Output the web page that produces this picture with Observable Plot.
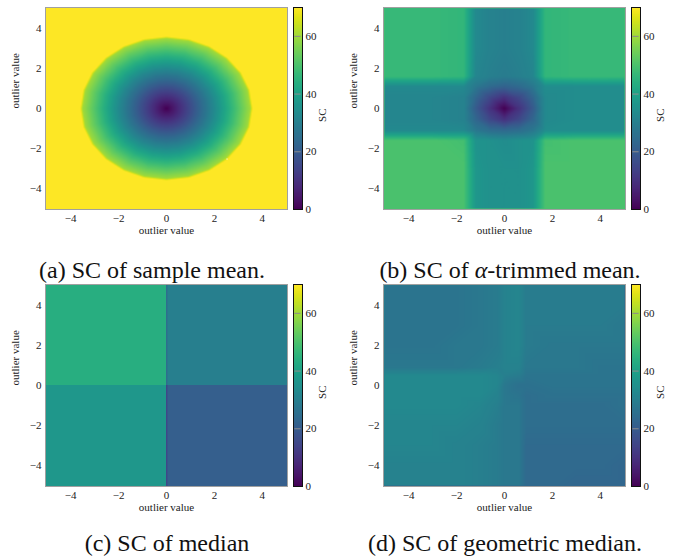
<!DOCTYPE html>
<html><head><meta charset="utf-8">
<script src="https://cdn.jsdelivr.net/npm/d3@7"></script>
<script src="https://cdn.jsdelivr.net/npm/@observablehq/plot@0.6"></script>
<style>
html,body{margin:0;padding:0;background:#fff;}
#fig{position:relative;width:686px;height:556px;overflow:hidden;background:#fff;}
.cap{position:absolute;width:340px;text-align:center;font-family:"Liberation Serif",serif;font-size:24px;line-height:24px;color:#111;white-space:nowrap;}
</style></head><body><div id="fig"></div>
<script>
// (a) SC of sample mean — samples on rings around the centre:
// ring directions, ring radii and the SC read on each ring
const ringDirX = [1.000,0.966,0.866,0.707,0.500,0.259,0.000,-0.259,-0.500,-0.707,-0.866,-0.966,-1.000,-0.966,-0.866,-0.707,-0.500,-0.259,0.000,0.259,0.500,0.707,0.866,0.966];
const ringDirY = [0.000,0.259,0.500,0.707,0.866,0.966,1.000,0.966,0.866,0.707,0.500,0.259,0.000,-0.259,-0.500,-0.707,-0.866,-0.966,-1.000,-0.966,-0.866,-0.707,-0.500,-0.259];
const ringR  = [0, 1.0, 2.0, 2.5, 3.0, 3.5, 3.6, 4.5, 6.0, 7.4];
const ringSC = [0, 16, 33, 42, 51, 60, 70, 70, 70, 70];

// (b) SC of alpha-trimmed mean
const trimX = [-5,-4,-3,-1.7,-1.2,-0.6,0,0.6,1.2,1.7,3,4,5];
const trimY = [5,4,3,1.6,1.1,0.55,0,-0.55,-1.1,-1.6,-3,-4,-5];
const trimmedSC = [
  [47,47,47,46,33,31,30,31,33,46,47,47,47],
  [47,47,47,46,33,31,30,31,33,46,47,47,47],
  [47,47,47,46,33,31,30,31,33,46,47,47,47],
  [47,47,47,46,32,30,29,30,32,46,47,47,47],
  [33,33,33,33,28,24,22,24,28,34,34,34,34],
  [32,32,32,31,23,15,10,15,23,33,34,34,34],
  [32,32,32,31,20,10,0,10,20,33,34,34,34],
  [32,32,32,31,23,15,10,15,23,33,34,34,34],
  [33,33,33,33,28,25,24,25,28,34,34,34,34],
  [50,50,50,49,36,35,34,35,36,49,50,50,50],
  [50,50,50,50,37,35,35,35,37,50,50,50,50],
  [50,50,50,50,37,35,35,35,37,50,50,50,50],
  [50,50,50,50,37,35,35,35,37,50,50,50,50]
];

// (c) SC of median: quadrant boxes (data bounds) and values
const quadX1 = [-5.05, 0, -5.05, 0, 0, 0];
const quadX2 = [0, 5.05, 0, 5.05, 0.06, 0.06];
const quadY1 = [0, 0, -5.05, -5.05, 0, -5.05];
const quadY2 = [5.05, 5.05, 0, 0, 5.05, 0];
const medianSC = [44, 30, 37, 21, 25, 15];

// (d) SC of geometric median
const geoX = [-5,-4,-3,-2,-1,-0.3,0,0.6,0.9,2,3,4,5];
const geoY = [5,4,3,2,0.9,0.5,0,-0.5,-1,-2,-3,-4,-5];
const geoMedianSC = [
  [27,27,27,27,28,29,31,32,29,29,29,29,29],
  [27,27,27,27,28,29,31,32,29,29,29,29,29],
  [27,27,27,27,28,29,31,32,29,29,29,29,28],
  [27,27,27,28,28,29,31,32,29,28,28,28,28],
  [28,28,28,28,29,30,31,31,28,28,28,27,27],
  [33,33,33,33,33,32,30,29,27,27,27,27,27],
  [33,33,33,33,33,32,28,26,26,27,27,27,27],
  [33,33,33,33,33,31,28,27,25,26,26,26,26],
  [33,33,33,33,32,30,28,28,25,25,25,25,26],
  [32,32,32,32,31,29,28,28,25,25,25,25,25],
  [32,32,32,31,30,29,28,28,24,24,24,24,24],
  [31,31,31,31,30,29,28,28,24,24,24,24,23],
  [31,31,31,31,30,29,28,28,24,24,23,23,23]
];

const axisTicks = [-4,-2,0,2,4];
const colorTicks = [0,20,40,60];
const colorDomain = [0,70];
const captions = ["(a) SC of sample mean.", "(b) SC of |α|-trimmed mean.", "(c) SC of median", "(d) SC of geometric median."];

const DOM = 5.05;
const fig = document.getElementById("fig");
function place(node, left, top){ node.style.position="absolute"; node.style.left=left+"px"; node.style.top=top+"px"; fig.appendChild(node); }
function toTable(grid, xs, ys){ return grid.flatMap((row,i)=>row.map((v,j)=>({x:xs[j], y:ys[i], sc:v}))); }

const font = {fontFamily:"'Liberation Serif', serif", fontSize:"11px", color:"#222", background:"white"};
const colorScale = {type:"linear", scheme:"viridis", domain:colorDomain};

function heat(mark){
  return Plot.plot({
    width:290, height:245, marginLeft:45, marginRight:3, marginTop:7, marginBottom:36,
    x:{domain:[-DOM,DOM], ticks:axisTicks, tickSize:0, tickPadding:5, label:null},
    y:{domain:[-DOM,DOM], ticks:axisTicks, tickSize:0, tickPadding:4, label:null},
    color:colorScale, style:font,
    marks:[
      mark,
      Plot.frame({stroke:"#a0a0a0", strokeWidth:1}),
      Plot.text(["outlier value"], {frameAnchor:"bottom", dy:24}),
      Plot.text(["outlier value"], {frameAnchor:"left", dx:-30, rotate:-90})
    ]
  });
}
function rasterOf(table){
  return Plot.raster(table, {x:"x", y:"y", fill:"sc", x1:-DOM, x2:DOM, y1:-DOM, y2:DOM, interpolate:"barycentric"});
}
function colorbar(){
  return Plot.plot({
    width:45, height:245, marginLeft:0, marginRight:36, marginTop:7, marginBottom:36,
    x:{domain:[0,1], axis:null},
    y:{domain:colorDomain, ticks:colorTicks, tickSize:0, tickPadding:3, label:null, axis:"right"},
    color:colorScale, style:font,
    marks:[
      Plot.raster({x1:0, x2:1, y1:colorDomain[0], y2:colorDomain[1], fill:(x,y)=>y}),
      Plot.ruleY(colorTicks.slice(1), {x1:0.15, x2:0.85, stroke:"#8c8c8c", strokeWidth:1}),
      Plot.frame({stroke:"#111", strokeWidth:1}),
      Plot.text(["SC"], {frameAnchor:"right", dx:20, rotate:-90})
    ]
  });
}

const meanTable = ringR.flatMap((r,k)=>ringDirX.map((dx,i)=>({x:r*dx, y:r*ringDirY[i], sc:ringSC[k]})));
const quadData = medianSC.map((v,i)=>({x1:quadX1[i], x2:quadX2[i], y1:quadY1[i], y2:quadY2[i], sc:v}));

place(heat(rasterOf(meanTable)), 0, 0);
place(colorbar(), 293, 0);
place(heat(rasterOf(toTable(trimmedSC, trimX, trimY))), 338, 0);
place(colorbar(), 631, 0);
place(heat(Plot.rect(quadData, {x1:"x1", x2:"x2", y1:"y1", y2:"y2", fill:"sc"})), 0, 277);
place(colorbar(), 293, 277);
place(heat(rasterOf(toTable(geoMedianSC, geoX, geoY))), 338, 277);
place(colorbar(), 631, 277);

const capPos = [[152,258],[510,258],[167,531],[505,531]];
captions.forEach((t,i)=>{
  const d = document.createElement("div");
  d.className = "cap";
  t.split("|").forEach((p,k)=>{
    if (k % 2 === 1) { const it = document.createElement("i"); it.textContent = p; d.appendChild(it); }
    else d.appendChild(document.createTextNode(p));
  });
  d.style.left = (capPos[i][0]-170)+"px";
  d.style.top = capPos[i][1]+"px";
  fig.appendChild(d);
});
</script></body></html>
